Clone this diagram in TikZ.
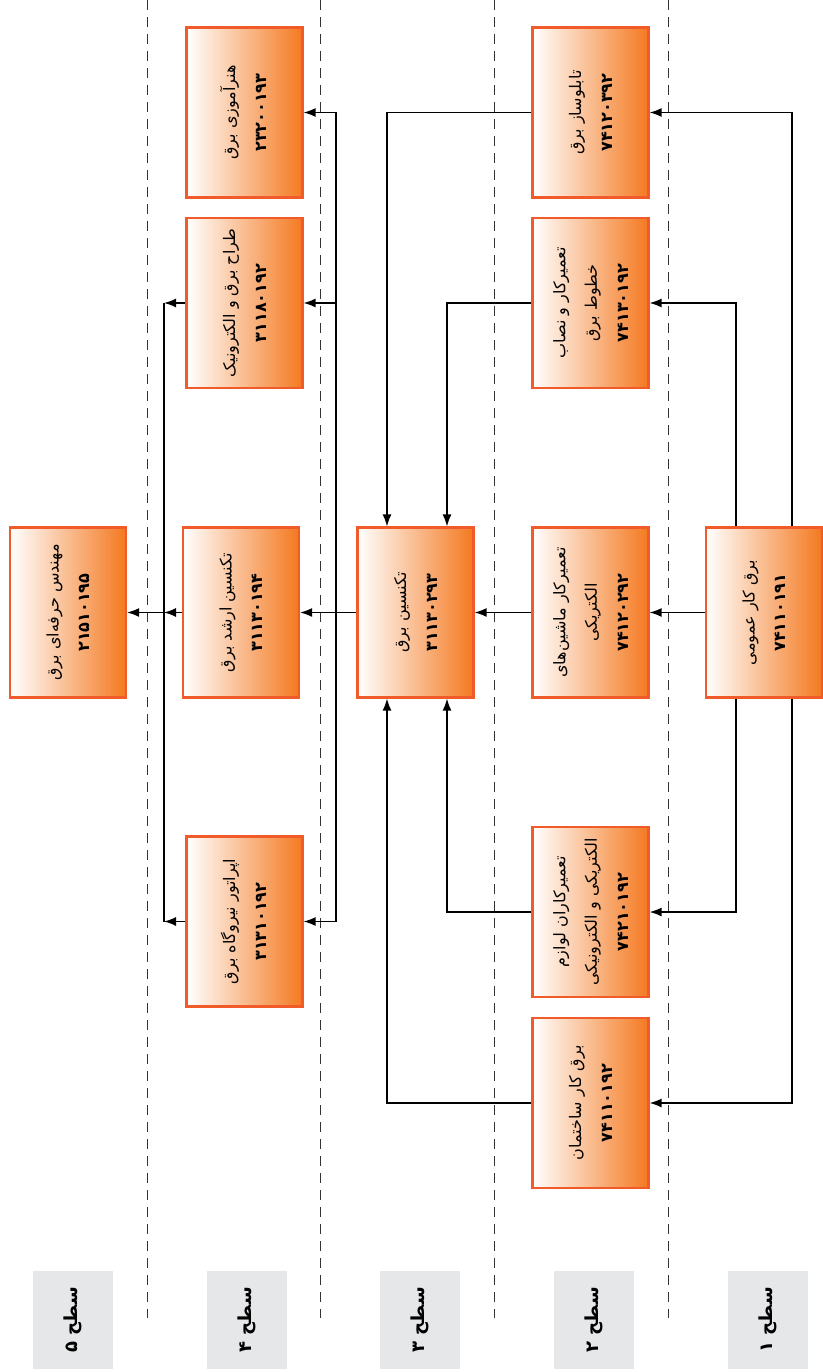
\documentclass[tikz,border=0pt]{standalone}
\usepackage{fontspec}
\usepackage{graphicx}
\usetikzlibrary{arrows.meta}
\newfontfamily\farsi[Script=Arabic]{DejaVu Sans}
\TeXXeTstate=1

\definecolor{boxedge}{HTML}{F15A29}
\definecolor{boxfill}{HTML}{F47920}
\definecolor{levelgray}{HTML}{E6E7E8}

\newcommand{\fa}[1]{\beginR #1\endR}
\newcommand{\jobtext}[1]{\rotatebox{90}{\def\arraystretch{1.65}\begin{tabular}{@{}c@{}}#1\end{tabular}}}

\tikzset{
  jobbox/.style={draw=boxedge, line width=2.2pt, left color=white, right color=boxfill,
    minimum width=116pt, minimum height=170pt, inner sep=0pt,
    font=\farsi\fontsize{16}{19}\selectfont},
  levelbox/.style={fill=levelgray, minimum width=80pt, minimum height=98pt, inner sep=0pt,
    font=\farsi\bfseries\fontsize{18}{21}\selectfont},
  link/.style={line width=1.4pt},
  arr/.style={link, -{Latex[length=12pt,width=9pt]}},
  levelline/.style={line width=1pt, dash pattern=on 10pt off 7pt, black!80}
}

\begin{document}
\begin{tikzpicture}[x=1pt,y=-1pt]
  \useasboundingbox (0,0) rectangle (822,1372);

  % level separators and labels
  \foreach \x in {147,320,494,668}
    \draw[levelline] (\x,0) -- (\x,1318);
  \foreach \n/\lv/\x in {5/۵/73,4/۴/247,3/۳/420,2/۲/594,1/۱/768}
    \node[levelbox] (level\n) at (\x,1320) {\rotatebox{90}{\fa{سطح \lv}}};

  % level 5
  \node[jobbox] (mohandes) at (68,612.5) {\jobtext{\fa{مهندس حرفه‌ای برق}\\ \textbf{۲۱۵۱۰۱۹۵}}};

  % level 4
  \node[jobbox] (honar) at (244.5,112.5) {\jobtext{\fa{هنرآموزی برق}\\ \textbf{۲۳۲۰۰۱۹۳}}};
  \node[jobbox] (tarrah) at (244.5,303) {\jobtext{\fa{طراح برق و الکترونیک}\\ \textbf{۳۱۱۸۰۱۹۲}}};
  \node[jobbox] (arshad) at (241,612.5) {\jobtext{\fa{تکنسین ارشد برق}\\ \textbf{۳۱۱۳۰۱۹۴}}};
  \node[jobbox] (operator) at (244.5,921.5) {\jobtext{\fa{اپراتور نیروگاه برق}\\ \textbf{۳۱۳۱۰۱۹۲}}};

  % level 3
  \node[jobbox] (technician) at (415.5,612.5) {\jobtext{\fa{تکنسین برق}\\ \textbf{۳۱۱۳۰۲۹۳}}};

  % level 2
  \node[jobbox] (tablo) at (590.5,112.5) {\jobtext{\fa{تابلوساز برق}\\ \textbf{۷۴۱۲۰۳۹۲}}};
  \node[jobbox] (nasab) at (590.5,303) {\jobtext{\fa{تعمیرکار و نصاب}\\ \fa{خطوط برق}\\ \textbf{۷۴۱۳۰۱۹۲}}};
  \node[jobbox] (mashin) at (590.5,612.5) {\jobtext{\fa{تعمیرکار ماشین‌های}\\ \fa{الکتریکی}\\ \textbf{۷۴۱۲۰۲۹۲}}};
  \node[jobbox] (lavazem) at (590.5,912) {\jobtext{\fa{تعمیرکاران لوازم}\\ \fa{الکتریکی و الکترونیکی}\\ \textbf{۷۴۲۱۰۱۹۲}}};
  \node[jobbox] (sakhteman) at (590.5,1103) {\jobtext{\fa{برق کار ساختمان}\\ \textbf{۷۴۱۱۰۱۹۲}}};

  % level 1
  \node[jobbox] (omumi) at (764,612.5) {\jobtext{\fa{برق کار عمومی}\\ \textbf{۷۴۱۱۰۱۹۱}}};

  % bus lines
  \coordinate (bus5) at (164,0);
  \coordinate (bus4) at (336,0);
  \coordinate (bus3a) at (387,0);
  \coordinate (bus3b) at (447,0);
  \coordinate (bus1a) at (736,0);
  \coordinate (bus1b) at (792,0);

  % level 4 -> level 5
  \draw[link] (bus5 |- tarrah.west) -- (bus5 |- operator.west);
  \draw[arr] (tarrah.west) -- (bus5 |- tarrah.west);
  \draw[arr] (arshad.west) -- (bus5 |- arshad.west);
  \draw[arr] (operator.west) -- (bus5 |- operator.west);
  \draw[arr] (bus5 |- arshad.west) -- (mohandes.east);

  % level 3 -> level 4
  \draw[link] (technician.west) -- (bus4 |- technician.west);
  \draw[link] (bus4 |- honar.east) -- (bus4 |- operator.east);
  \draw[arr] (bus4 |- honar.east) -- (honar.east);
  \draw[arr] (bus4 |- tarrah.east) -- (tarrah.east);
  \draw[arr] (bus4 |- arshad.east) -- (arshad.east);
  \draw[arr] (bus4 |- operator.east) -- (operator.east);

  % level 2 -> level 3
  \draw[arr] (tablo.west) -| (bus3a |- technician.north);
  \draw[arr] (nasab.west) -| (bus3b |- technician.north);
  \draw[arr] (mashin.west) -- (technician.east);
  \draw[arr] (lavazem.west) -| (bus3b |- technician.south);
  \draw[arr] (sakhteman.west) -| (bus3a |- technician.south);

  % level 1 -> level 2
  \draw[arr] (bus1b |- omumi.north) |- (tablo.east);
  \draw[arr] (bus1a |- omumi.north) |- (nasab.east);
  \draw[arr] (omumi.west) -- (mashin.east);
  \draw[arr] (bus1a |- omumi.south) |- (lavazem.east);
  \draw[arr] (bus1b |- omumi.south) |- (sakhteman.east);
\end{tikzpicture}
\end{document}
